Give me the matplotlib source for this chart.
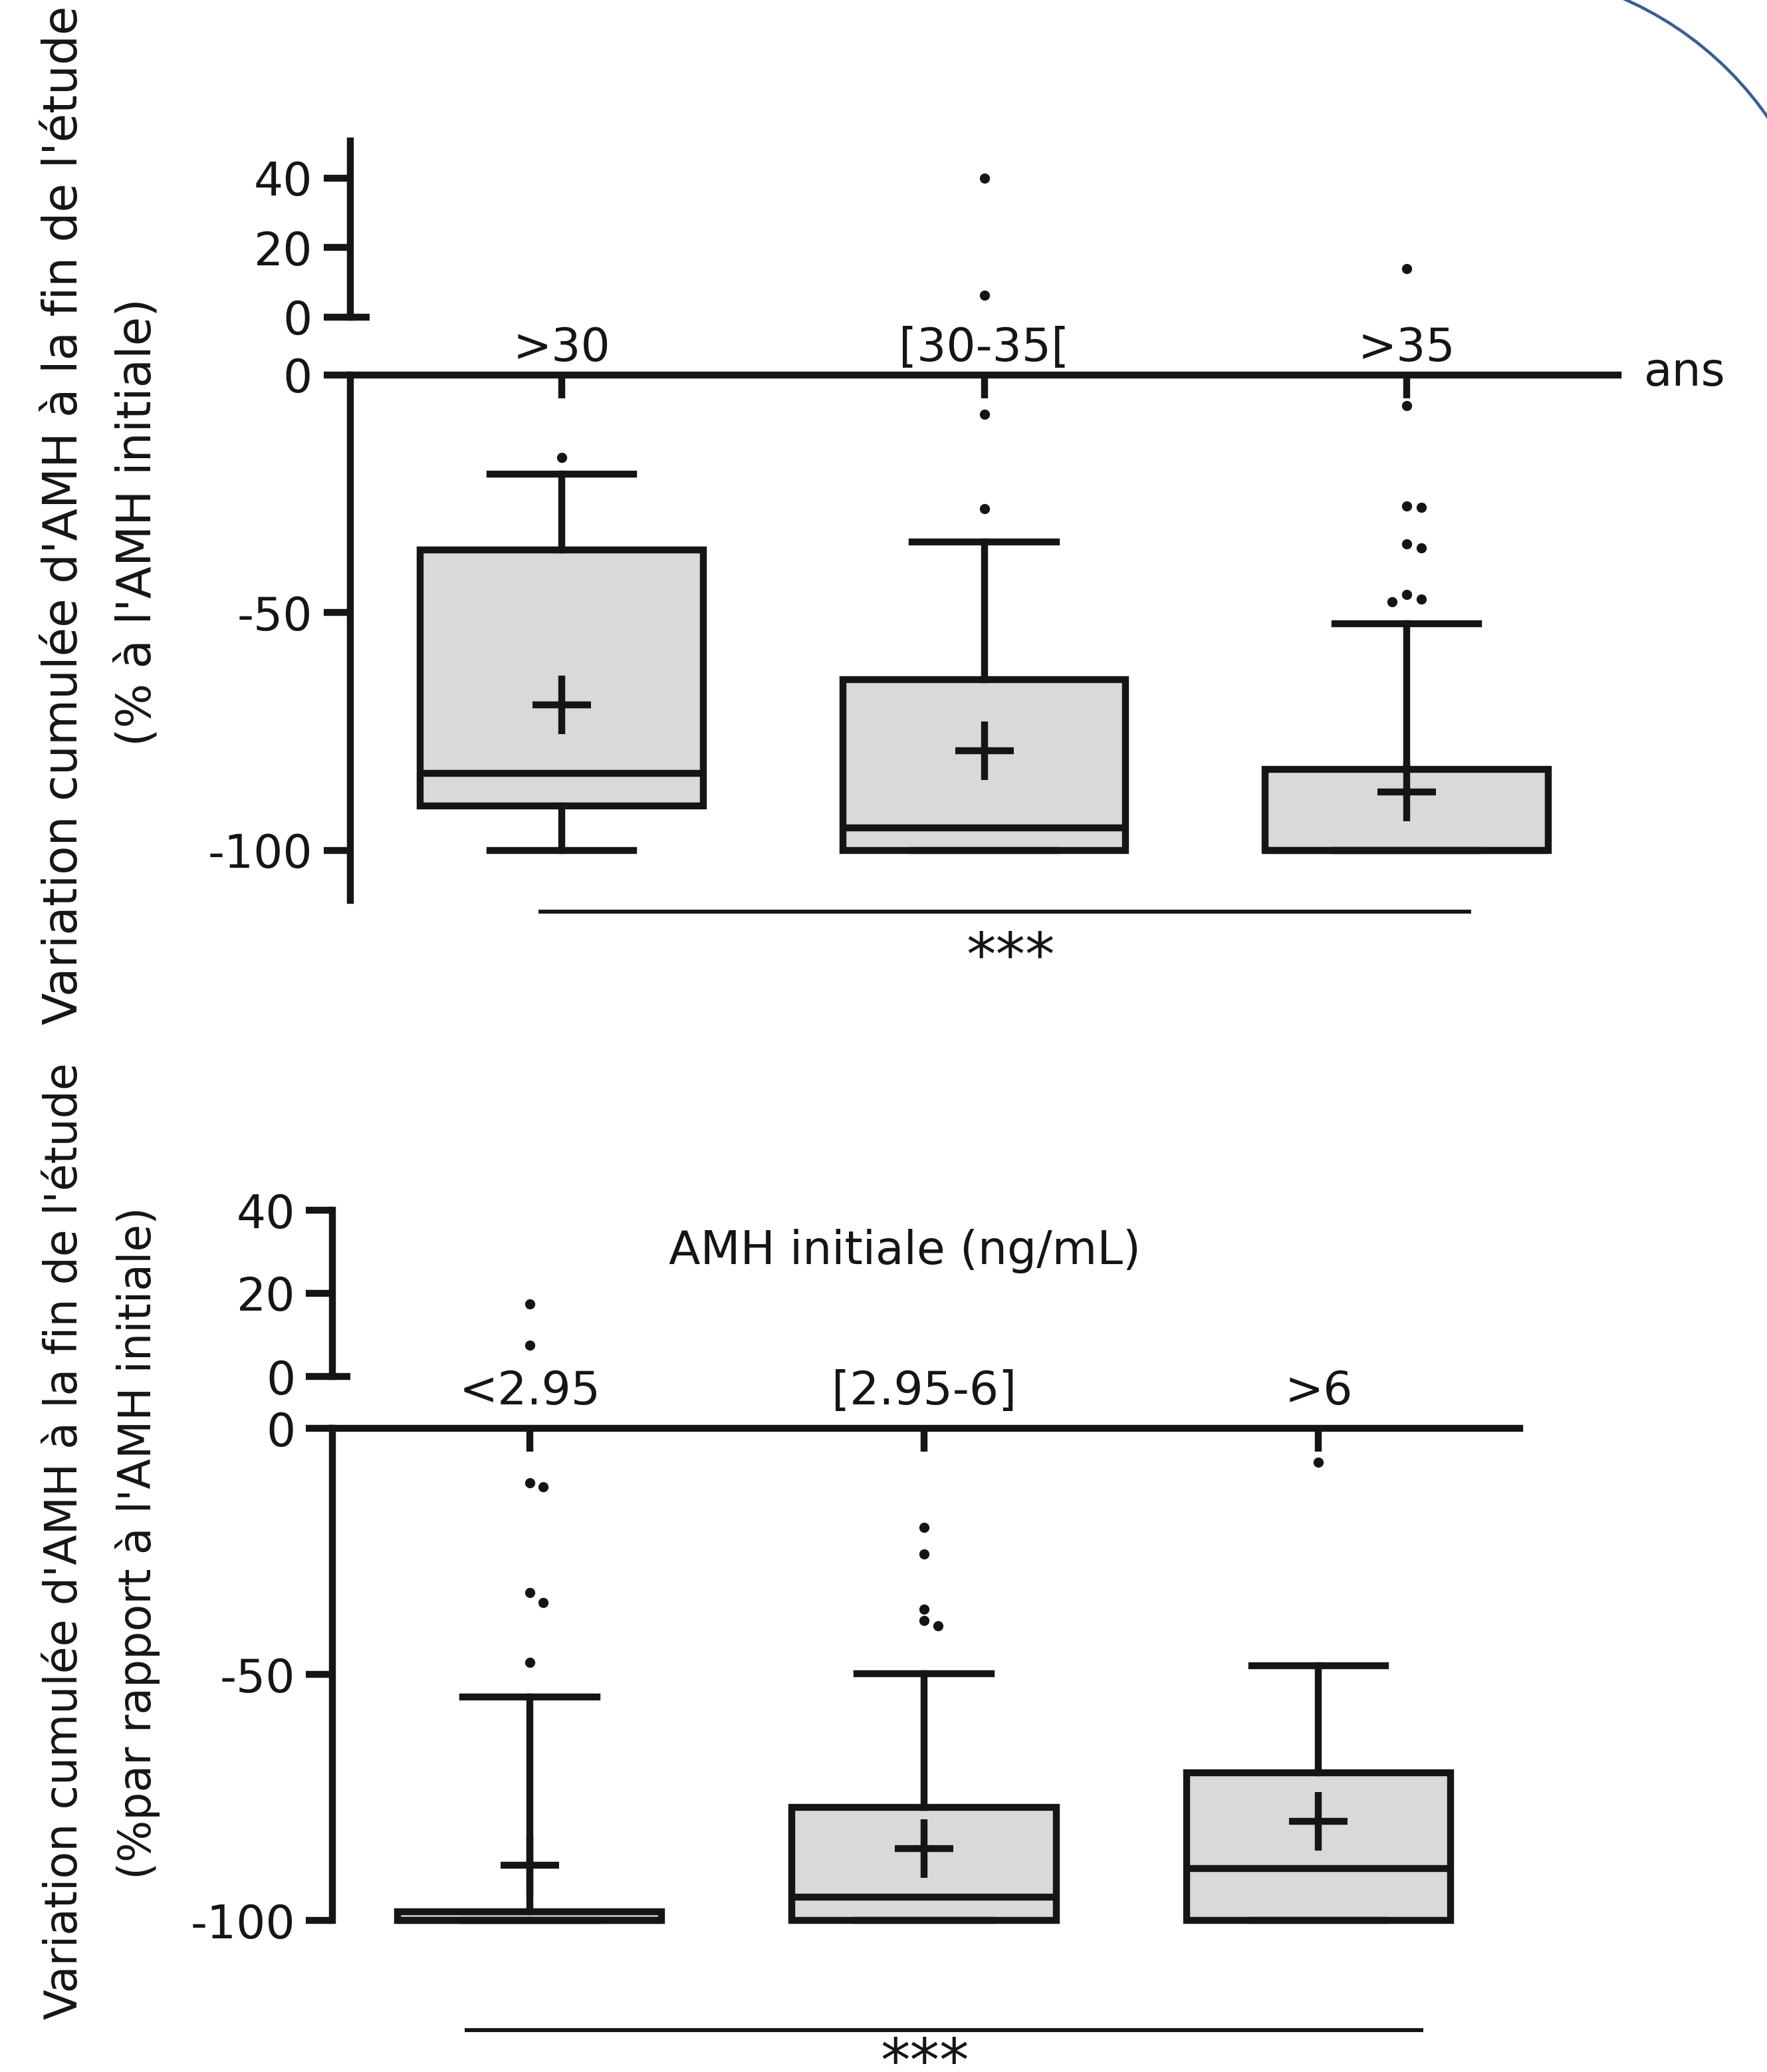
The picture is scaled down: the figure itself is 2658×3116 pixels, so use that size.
import numpy as np
import matplotlib
matplotlib.use("Agg")
import matplotlib.pyplot as plt
from matplotlib.patches import Arc

plt.rcParams["font.family"] = ["DejaVu Sans"]
plt.rcParams["axes.unicode_minus"] = False

# ---- panel 1: age groups ----
age_groups = [">30", "[30-35[", ">35"]
age_q1 = [-90.7, -100.0, -100.0]
age_med = [-83.8, -95.3, -100.0]
age_q3 = [-36.8, -64.0, -83.0]
age_whislo = [-100.0, -100.0, -100.0]
age_whishi = [-20.8, -35.1, -52.3]
age_mean = [-69.4, -79.0, -87.7]
age_outliers = [
    [-17.3],
    [40.0, 6.3, -8.3, -28.1],
    [14.0, -6.4, -27.6, -27.9, -35.5, -36.3, -46.1, -47.2, -47.7],
]

# ---- panel 2: initial AMH groups ----
amh_groups = ["<2.95", "[2.95-6]", ">6"]
amh_q1 = [-100.0, -100.0, -100.0]
amh_med = [-100.0, -95.3, -89.5]
amh_q3 = [-98.2, -77.0, -70.0]
amh_whislo = [-100.0, -100.0, -100.0]
amh_whishi = [-54.6, -49.8, -48.2]
amh_mean = [-88.8, -85.4, -79.9]
amh_outliers = [
    [17.5, 7.5, -11.1, -11.9, -33.4, -35.4, -47.6],
    [-20.2, -25.6, -36.7, -39.0, -40.1],
    [-6.9],
]

W, H = 2658, 3116
DPI = 100
INK = "#151515"
FILL = "#d9d9d9"
LW = 7.5
FS = 50

fig = plt.figure(figsize=(W / DPI, H / DPI), dpi=DPI)


def px_rect(left, top, right, bottom):
    return [left / W, 1 - bottom / H, (right - left) / W, (bottom - top) / H]


def swarm_offsets(values, tol, step):
    # simple dodge: points too close vertically get pushed sideways
    placed, offs = [], []
    for v in values:
        for c in (0, step, -step, 2 * step, -2 * step):
            if all(not (abs(v - pv) < tol and abs(c - po) < step * 0.5) for pv, po in placed):
                break
        placed.append((v, c))
        offs.append(c)
    return offs


def draw_panel(rect_low, rect_up, xlim, ylim_low, ylim_up, groups, q1, med, q3,
               wlo, whi, mean, outliers, cat_pad, ytick_pad):
    ax = fig.add_axes(rect_low)
    axu = fig.add_axes(rect_up)

    stats = [dict(label=g, q1=a, med=m, q3=b, whislo=lo, whishi=hi, mean=mu, fliers=[])
             for g, a, m, b, lo, hi, mu in zip(groups, q1, med, q3, wlo, whi, mean)]
    art = ax.bxp(stats, positions=[0, 1, 2], widths=0.67, capwidths=0.34,
                 patch_artist=True, showmeans=True, showfliers=False, manage_ticks=False,
                 boxprops=dict(facecolor=FILL, edgecolor=INK, linewidth=LW),
                 medianprops=dict(color=INK, linewidth=LW),
                 whiskerprops=dict(color=INK, linewidth=LW),
                 capprops=dict(color=INK, linewidth=LW),
                 meanprops=dict(marker="+", markersize=64, markeredgewidth=LW,
                                markeredgecolor=INK))
    for lst in art.values():
        for a in lst:
            a.set_clip_on(False)

    for i, vals in enumerate(outliers):
        low = sorted([v for v in vals if v <= 0], reverse=True)
        up = [v for v in vals if v > 0]
        offs = swarm_offsets(low, 2.1, 0.035)
        ax.plot(i + np.array(offs), low, "o", ms=10, color=INK, clip_on=False, zorder=5)
        axu.plot([i] * len(up), up, "o", ms=10, color=INK, clip_on=False, zorder=5)

    for a in (ax, axu):
        a.set_xlim(xlim)
        a.patch.set_alpha(0)
        for s in ("bottom", "right", "top"):
            a.spines[s].set_visible(False)
        a.spines["left"].set_linewidth(LW)
        a.spines["left"].set_color(INK)
        a.tick_params(axis="y", direction="out", length=29, width=LW, pad=ytick_pad,
                      labelsize=FS, colors=INK)

    ax.set_ylim(ylim_low)
    ax.set_yticks([0, -50, -100])
    ax.spines["top"].set_visible(True)
    ax.spines["top"].set_linewidth(LW)
    ax.spines["top"].set_color(INK)
    ax.xaxis.tick_top()
    ax.set_xticks([0, 1, 2], groups)
    ax.tick_params(axis="x", direction="in", length=25, width=LW, pad=cat_pad,
                   labelsize=FS, colors=INK)

    axu.set_ylim(ylim_up)
    axu.set_yticks([0, 20, 40])
    axu.set_xticks([])
    axu.plot([0, 0.015], [0, 0], transform=axu.get_yaxis_transform(), color=INK,
             lw=LW, clip_on=False, solid_capstyle="butt")
    return ax, axu


ax1, ax1u = draw_panel(px_rect(527, 564, 2434, 1354), px_rect(527, 212, 2434, 477),
                       (-0.5, 2.5), (-110.5, 0), (0, 50.7), age_groups,
                       age_q1, age_med, age_q3, age_whislo, age_whishi, age_mean,
                       age_outliers, cat_pad=5, ytick_pad=12)
ax2, ax2u = draw_panel(px_rect(500, 2148, 2286, 2888), px_rect(500, 1820, 2286, 2070),
                       (-0.5, 2.51), (-100, 0), (0, 40), amh_groups,
                       amh_q1, amh_med, amh_q3, amh_whislo, amh_whishi, amh_mean,
                       amh_outliers, cat_pad=16, ytick_pad=11)

# significance bars
ax1.plot([-0.05, 2.147], [-112.9, -112.9], color=INK, lw=4.3, clip_on=False)
ax2.plot([-0.16, 2.26], [-122.3, -122.3], color=INK, lw=4.3, clip_on=False)


def ftext(x, y, s, **kw):
    return fig.text(x / W, 1 - y / H, s, color=INK, **kw)


ftext(1520, 1467, "***", ha="center", va="baseline", fontsize=64)
ftext(1391, 3130, "***", ha="center", va="baseline", fontsize=64)

ftext(2473, 580, "ans", ha="left", va="baseline", fontsize=FS)
ftext(1361, 1901, "AMH initiale (ng/mL)", ha="center", va="baseline", fontsize=FS)

# y axis titles
ftext(97, 775, "Variation cumulée d'AMH à la fin de l'étude", rotation=90,
      ha="center", va="center", fontsize=51)
ftext(207, 785, "(% à l'AMH initiale)", rotation=90, ha="center", va="center", fontsize=51)
ftext(97, 2318, "Variation cumulée d'AMH à la fin de l'étude", rotation=90,
      ha="center", va="center", fontsize=48)
ftext(207, 2320, "(%par rapport à l'AMH initiale)", rotation=90, ha="center",
      va="center", fontsize=48)

# slide decoration arc in the top-right corner
fig.add_artist(Arc((2236 / W, 1 - 470 / H), 2 * 515 / W, 2 * 515 / H, theta1=0, theta2=90,
                   transform=fig.transFigure, color="#3a5f92", lw=3.3))

fig.savefig("out.png", dpi=DPI)
